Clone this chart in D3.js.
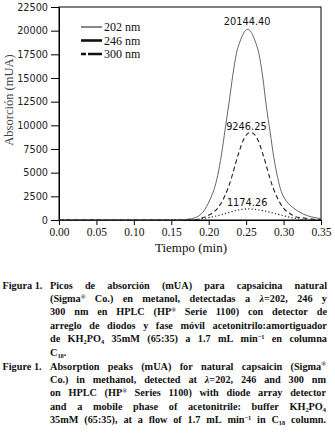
<!DOCTYPE html>
<html><head><meta charset="utf-8">
<script src="https://cdn.jsdelivr.net/npm/d3@7"></script>
<style>
html,body{margin:0;padding:0;background:#fff;}
svg{display:block;}
.serif{font-family:"Liberation Serif","Times New Roman",serif;}
.sans{font-family:"DejaVu Sans",sans-serif;}
</style></head>
<body>
<svg id="c" width="335" height="436"></svg>
<script>
// ---- data ----
const seriesNames = ["202 nm", "246 nm", "300 nm"];
const xTicks = [0, 0.05, 0.10, 0.15, 0.20, 0.25, 0.30, 0.35];
const yTicks = [0, 2500, 5000, 7500, 10000, 12500, 15000, 17500, 20000, 22500];

const t202 = [0, 0.05, 0.10, 0.15, 0.165, 0.172, 0.182, 0.187, 0.192, 0.197, 0.202, 0.207, 0.212, 0.217, 0.222, 0.227, 0.232, 0.237, 0.242, 0.247, 0.252, 0.257, 0.262, 0.267, 0.272, 0.277, 0.282, 0.287, 0.292, 0.297, 0.302, 0.307, 0.312, 0.317, 0.322, 0.332, 0.342, 0.35];
const v202 = [0, 0, 0, 0, 10, 80, 250, 450, 800, 1400, 2200, 3200, 4700, 6900, 9600, 12300, 15200, 17600, 18900, 19800, 20144.40, 19800, 18900, 17600, 15200, 12000, 9300, 6600, 4500, 3000, 2200, 1700, 1350, 1050, 800, 450, 250, 150];

const t246 = [0, 0.05, 0.10, 0.15, 0.17, 0.176, 0.186, 0.191, 0.196, 0.201, 0.206, 0.211, 0.216, 0.221, 0.226, 0.231, 0.236, 0.241, 0.246, 0.251, 0.256, 0.261, 0.266, 0.271, 0.276, 0.281, 0.286, 0.291, 0.296, 0.301, 0.306, 0.311, 0.316, 0.326, 0.34, 0.35];
const v246 = [0, 0, 0, 0, 5, 20, 80, 220, 350, 550, 800, 1150, 1700, 2450, 3400, 4600, 6000, 7300, 8400, 9050, 9246.25, 9050, 8400, 7300, 6000, 4600, 3400, 2450, 1700, 1150, 800, 550, 350, 220, 80, 20];

const t300 = [0, 0.05, 0.10, 0.15, 0.175, 0.185, 0.195, 0.205, 0.215, 0.225, 0.235, 0.245, 0.252, 0.26, 0.27, 0.28, 0.29, 0.30, 0.31, 0.32, 0.33, 0.34, 0.35];
const v300 = [0, 0, 0, 0, 0, 60, 180, 330, 520, 750, 980, 1130, 1174.26, 1140, 1030, 860, 650, 450, 260, 120, 40, 0, 0];

const peakLabels = ["20144.40", "9246.25", "1174.26"];
const peakTimes = [0.252, 0.251, 0.252];
const peakValues = [20144.40, 9246.25, 1174.26];

const xTitle = "Tiempo (min)";
const yTitle = "Absorción (mUA)";

// caption lines: {_x} subscript, {^x} superscript, *x* bold italic
const capEs = [
  {lab: "Figura 1.", txt: "Picos de absorción (mUA) para capsaicina natural", just: true},
  {txt: "(Sigma{^®} Co.) en metanol, detectadas a *λ*=202, 246 y", just: true},
  {txt: "300 nm en HPLC (HP{^®} Serie 1100) con detector de", just: true},
  {txt: "arreglo de diodos y fase móvil acetonitrilo:amortiguador", just: true},
  {txt: "de KH{_2}PO{_4} 35mM (65:35) a 1.7 mL min{^−1} en columna", just: true},
  {txt: "C{_18}.", just: false}
];
const capEn = [
  {lab: "Figure 1.", txt: "Absorption peaks (mUA) for natural capsaicin (Sigma{^®}", just: true},
  {txt: "Co.) in methanol, detected at *λ*=202, 246 and 300 nm", just: true},
  {txt: "on HPLC  (HP{^®} Series 1100) with diode array detector", just: true},
  {txt: "and a mobile phase of acetonitrile: buffer KH{_2}PO{_4}", just: true},
  {txt: "35mM (65:35), at a flow of 1.7 mL min{^−1} in C{_18} column.", just: true}
];

// ---- chart ----
const svg = d3.select("#c");
const L = 59, R = 321, T = 7, B = 220;
const x = d3.scaleLinear().domain([0, 0.35]).range([L, R]);
const y = d3.scaleLinear().domain([0, 22500]).range([B, T]);

const ya = svg.append("g").attr("transform", `translate(${L},0)`)
  .call(d3.axisLeft(y).tickValues(yTicks).tickSize(8).tickSizeOuter(0).tickPadding(3).tickFormat(d3.format("d")));
ya.attr("font-family", null);
ya.selectAll("text").attr("class", "sans").attr("font-size", 9.7).attr("fill", "#222");
const xa = svg.append("g").attr("transform", `translate(0,${B})`)
  .call(d3.axisBottom(x).tickValues(xTicks).tickSize(5).tickSizeOuter(0).tickPadding(3).tickFormat(d3.format(".2f")));
xa.attr("font-family", null);
xa.selectAll("text").attr("class", "serif").attr("font-size", 11.5).attr("fill", "#111");
svg.selectAll(".domain").attr("stroke", "#000");
svg.selectAll(".tick line").attr("stroke", "#000");

svg.append("rect").attr("x", L).attr("y", T).attr("width", R - L).attr("height", B - T)
  .attr("fill", "none").attr("stroke", "#000").attr("stroke-width", 1);

const line = d3.line().x(d => x(d[0])).y(d => y(d[1])).curve(d3.curveMonotoneX);
const series = [
  {pts: d3.zip(t202, v202), stroke: "#555", w: 0.9, dash: null},
  {pts: d3.zip(t246, v246), stroke: "#222", w: 1.1, dash: "4.5,3"},
  {pts: d3.zip(t300, v300), stroke: "#222", w: 1.2, dash: "1.2,2.2"}
];
series.forEach(s => {
  svg.append("path").attr("d", line(s.pts)).attr("fill", "none")
    .attr("stroke", s.stroke).attr("stroke-width", s.w)
    .attr("stroke-dasharray", s.dash);
});

// peak labels
const labOff = [4, 2.5, 2.5];
peakLabels.forEach((l, i) => {
  svg.append("text").attr("class", "sans").attr("x", x(peakTimes[i]) - 0.5).attr("y", y(peakValues[i]) - labOff[i])
    .attr("text-anchor", "middle").attr("font-size", 9.8)
    .attr("fill", "#111").text(l);
});

// legend
const legY = [27, 40.5, 54];
const legStyle = [{w: 1, dash: null}, {w: 2.6, dash: null}, {w: 2.6, dash: "5,2,12,0"}];
seriesNames.forEach((n, i) => {
  svg.append("line").attr("x1", 81).attr("x2", 102).attr("y1", legY[i]).attr("y2", legY[i])
    .attr("stroke", "#111").attr("stroke-width", legStyle[i].w).attr("stroke-dasharray", legStyle[i].dash);
  svg.append("text").attr("class", "serif").attr("x", 104).attr("y", legY[i] + 4)
    .attr("font-size", 12).attr("fill", "#111").text(n);
});

// axis titles
svg.append("text").attr("class", "serif").attr("x", 191).attr("y", 252).attr("text-anchor", "middle")
  .attr("font-size", 13).attr("fill", "#111").text(xTitle);
svg.append("text").attr("class", "serif").attr("transform", "translate(13,100) rotate(-90)").attr("text-anchor", "middle")
  .attr("font-size", 12.5).attr("fill", "#444").text(yTitle);

// ---- caption ----
const FS = 11.4, SX = 0.9;
function addWord(g, word, yPos) {
  const t = g.append("text").attr("class", "serif").attr("x", 0).attr("y", 0)
    .attr("font-weight", "bold")
    .attr("font-size", FS).attr("fill", "#111");
  const re = /\{([_^])([^}]*)\}|\*([^*]*)\*|([^{*]+)/g;
  let m;
  while ((m = re.exec(word)) !== null) {
    if (m[1]) {
      const sub = m[1] === "_";
      t.append("tspan").attr("font-size", FS * 0.62)
        .attr("baseline-shift", sub ? "-25%" : "45%").text(m[2]);
    } else if (m[3] !== undefined) {
      t.append("tspan").attr("font-style", "italic").text(m[3]);
    } else {
      t.append("tspan").text(m[4]);
    }
  }
  return t;
}
function place(n, xp, yp) { n.attr("transform", `translate(${xp},${yp}) scale(${SX},1)`); }
function layoutLine(g, line, yPos, x0, x1) {
  if (line.lab) place(addWord(g, line.lab), 2.5, yPos);
  const words = line.txt.split(/ +/);
  const nodes = words.map(w => addWord(g, w));
  const widths = nodes.map(n => n.node().getComputedTextLength() * SX);
  const total = d3.sum(widths);
  let gap = FS * 0.25;
  if (line.just && words.length > 1) gap = (x1 - x0 - total) / (words.length - 1);
  let cx = x0;
  nodes.forEach((n, i) => { place(n, cx, yPos); cx += widths[i] + gap; });
}
const cg = svg.append("g");
const lh = 13.4;
capEs.forEach((l, i) => layoutLine(cg, l, 288.5 + i * lh, 50, 327));
capEn.forEach((l, i) => layoutLine(cg, l, 369.5 + i * lh, 50, 326));
</script>
</body></html>
